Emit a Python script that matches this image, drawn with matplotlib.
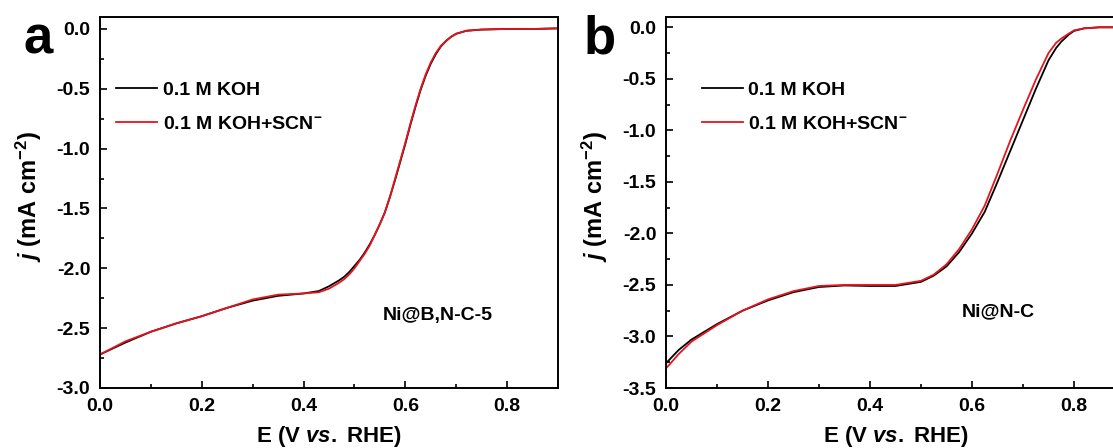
import numpy as np
import matplotlib
matplotlib.use("Agg")
import matplotlib.pyplot as plt
from matplotlib.ticker import MultipleLocator

plt.rcParams['font.family'] = ['Liberation Sans', 'DejaVu Sans']
plt.rcParams['font.weight'] = 'bold'
plt.rcParams['mathtext.fontset'] = 'custom'
plt.rcParams['mathtext.rm'] = 'Liberation Sans:bold'
plt.rcParams['mathtext.bf'] = 'Liberation Sans:bold'
plt.rcParams['mathtext.it'] = 'Liberation Sans:italic:bold'

# LSV data, potential in V vs. RHE, current density in mA cm^-2
# (a) Ni@B,N-C-5
e_a = [0.0, 0.05, 0.10, 0.15, 0.20, 0.25, 0.30, 0.35, 0.40, 0.43, 0.45, 0.47,
       0.48, 0.49, 0.50, 0.51, 0.52, 0.53, 0.54, 0.55, 0.56, 0.57, 0.58, 0.59,
       0.60, 0.61, 0.62, 0.63, 0.64, 0.65, 0.66, 0.67, 0.68, 0.69, 0.70, 0.72,
       0.75, 0.80, 0.85, 0.90]
j_a_koh = [-2.72, -2.62, -2.53, -2.46, -2.40, -2.33, -2.27, -2.23, -2.21, -2.19,
           -2.15, -2.10, -2.07, -2.03, -1.98, -1.93, -1.87, -1.80, -1.72, -1.63,
           -1.53, -1.40, -1.26, -1.11, -0.96, -0.80, -0.65, -0.51, -0.39, -0.29,
           -0.21, -0.145, -0.10, -0.065, -0.04, -0.015, -0.005, 0.0, 0.0, 0.005]
j_a_scn = [-2.72, -2.61, -2.53, -2.46, -2.40, -2.33, -2.26, -2.22, -2.21, -2.20,
           -2.17, -2.12, -2.09, -2.05, -2.00, -1.94, -1.88, -1.81, -1.72, -1.63,
           -1.53, -1.40, -1.25, -1.10, -0.95, -0.79, -0.64, -0.50, -0.38, -0.28,
           -0.20, -0.14, -0.10, -0.065, -0.04, -0.015, -0.005, 0.0, 0.0, 0.005]

# (b) Ni@N-C
e_b = [0.0, 0.025, 0.05, 0.10, 0.15, 0.20, 0.25, 0.30, 0.35, 0.40, 0.45, 0.50,
       0.525, 0.55, 0.575, 0.60, 0.625, 0.65, 0.675, 0.70, 0.725, 0.75, 0.765,
       0.775, 0.79, 0.80, 0.82, 0.85, 0.90]
j_b_koh = [-3.26, -3.13, -3.03, -2.88, -2.75, -2.65, -2.57, -2.52, -2.505, -2.51,
           -2.51, -2.47, -2.41, -2.32, -2.18, -2.00, -1.79, -1.50, -1.20, -0.90,
           -0.60, -0.32, -0.20, -0.14, -0.07, -0.035, -0.01, 0.0, 0.0]
j_b_scn = [-3.31, -3.17, -3.05, -2.89, -2.75, -2.64, -2.56, -2.51, -2.50, -2.50,
           -2.50, -2.46, -2.40, -2.30, -2.15, -1.96, -1.73, -1.42, -1.10, -0.80,
           -0.51, -0.25, -0.15, -0.11, -0.06, -0.03, -0.01, 0.0, 0.0]

labels = ['0.1 M KOH', '0.1 M KOH+SCN$^{-}$']
colors = ['black', '#e8141c']

W, H = 1113, 448
fig = plt.figure(figsize=(W / 100, H / 100), dpi=100)


def px_axes(left, top, right, bottom):
    return fig.add_axes([left / W, 1 - bottom / H, (right - left) / W, (bottom - top) / H])


def style_axes(ax, ymin, legend_x):
    ax.set_xlim(0.0, 0.9)
    ax.set_ylim(ymin, 0.1)
    ax.xaxis.set_major_locator(MultipleLocator(0.2))
    ax.xaxis.set_minor_locator(MultipleLocator(0.1))
    ax.yaxis.set_major_locator(MultipleLocator(0.5))
    ax.yaxis.set_minor_locator(MultipleLocator(0.25))
    ax.tick_params(which='both', direction='in', width=1.2, pad=7, labelsize=14)
    ax.tick_params(which='major', length=5)
    ax.tick_params(which='minor', length=3)
    for sp in ax.spines.values():
        sp.set_linewidth(1.4)
    ax.xaxis.set_major_formatter(plt.FuncFormatter(lambda v, p: f'{v:.1f}'))
    ax.yaxis.set_major_formatter(plt.FuncFormatter(lambda v, p: f'{v:.1f}'))
    ax.set_xlabel('E (V $vs.$ RHE)', fontsize=16, fontweight='bold')
    ax.set_ylabel('$j$ (mA cm$^{-2}$)', fontsize=17, fontweight='bold')
    ax.xaxis.set_label_coords(0.5, -0.098)
    ax.yaxis.set_label_coords(-0.122, 0.515)
    ax.legend(loc='upper left', bbox_to_anchor=(legend_x, 0.826), frameon=False,
              fontsize=14, handlelength=2.1, handletextpad=0.3,
              labelspacing=0.85, borderaxespad=0, borderpad=0)


# panel a
ax1 = px_axes(100, 17, 558, 388)
ax1.plot(e_a, j_a_koh, color=colors[0], lw=1.3, label=labels[0])
ax1.plot(e_a, j_a_scn, color=colors[1], lw=1.3, label=labels[1])
style_axes(ax1, -3.0, 0.035)
ax1.text(438, H - 315, 'Ni@B,N-C-5', transform=None, ha='center', va='center',
         fontsize=14, fontweight='bold')
fig.text(38 / W, 1 - 40 / H, 'a', fontsize=38, fontweight='bold', ha='center', va='center')

# panel b (right edge runs past the figure)
ax2 = px_axes(666, 17, 1125, 388)
ax2.plot(e_b, j_b_koh, color=colors[0], lw=1.3, label=labels[0])
ax2.plot(e_b, j_b_scn, color=colors[1], lw=1.3, label=labels[1])
style_axes(ax2, -3.5, 0.078)
ax2.text(998, H - 312, 'Ni@N-C', transform=None, ha='center', va='center',
         fontsize=14, fontweight='bold')
fig.text(600 / W, 1 - 40 / H, 'b', fontsize=38, fontweight='bold', ha='center', va='center')

fig.savefig('out.png', dpi=100)
